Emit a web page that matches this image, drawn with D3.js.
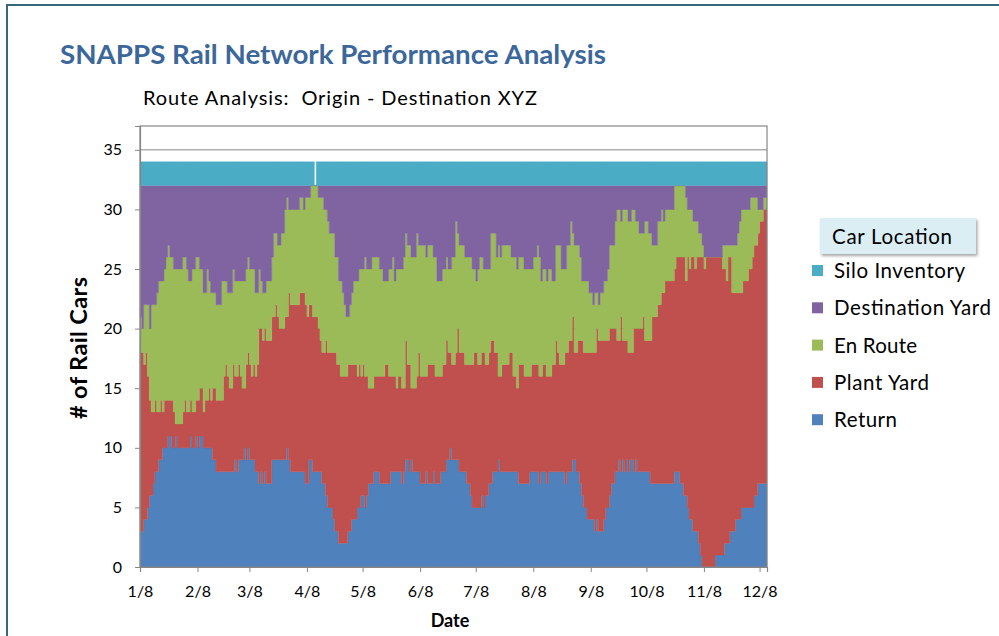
<!DOCTYPE html>
<html><head><meta charset="utf-8">
<script src="https://cdn.jsdelivr.net/npm/d3@7"></script>
<style>
html,body{margin:0;padding:0;background:#fff;}
svg{display:block;}
text{font-family:Lato,"Open Sans",sans-serif;}
</style></head><body>
<svg id="chart" width="999" height="636"></svg>
<script>
// ---------- DATA ----------
const startDate = "2010-01-08";   // first day (1/8)
const seriesNames = ["Return","Plant Yard","En Route","Destination Yard","Silo Inventory"];
const legendOrder = ["Silo Inventory","Destination Yard","En Route","Plant Yard","Return"];
const seriesColors = ["#4F81BD","#C0504D","#9BBB59","#8064A2","#4BACC6"];
const yTicks = [0,5,10,15,20,25,30,35];
const xTickDates = ["2010-01-08","2010-02-08","2010-03-08","2010-04-08","2010-05-08","2010-06-08",
                    "2010-07-08","2010-08-08","2010-09-08","2010-10-08","2010-11-08","2010-12-08"];

const returnCars = [3,3,4,4,5,6,6,7,8,8,
9,9,10,10,10,11,11,10,10,11,
10,10,10,10,10,10,10,11,10,10,
11,10,11,11,10,10,10,10,10,9,
9,8,8,8,8,8,8,8,8,8,
8,9,8,9,9,9,10,9,10,9,
9,9,8,8,7,8,7,8,7,7,
7,9,9,9,9,9,9,9,9,10,
9,8,8,8,8,8,8,8,8,7,
7,9,9,8,8,8,8,8,7,7,
6,5,5,5,4,3,3,2,2,2,
2,2,3,3,4,4,4,5,5,6,
6,5,6,7,7,7,8,8,8,7,
7,7,7,7,7,8,8,8,8,8,
8,7,8,9,9,8,9,8,8,8,
8,7,7,7,8,7,7,7,8,7,
7,7,8,8,8,9,9,10,9,9,
9,9,8,8,8,8,7,7,6,5,
5,5,5,5,6,5,6,6,7,7,
8,8,8,9,8,8,8,8,8,8,
8,8,8,8,7,7,7,7,7,7,
8,8,8,8,8,7,8,8,8,7,
8,8,8,8,8,8,8,8,8,7,
8,8,8,9,9,8,8,7,6,5,
5,4,4,4,4,3,4,3,3,3,
4,5,5,6,7,7,8,8,9,8,
9,8,9,8,9,9,8,9,8,8,
8,8,8,8,8,7,7,7,7,7,
7,7,7,7,7,7,7,7,8,8,
8,7,7,6,6,5,4,4,3,3,
3,2,1,0,0,0,0,0,0,0,
1,1,1,1,1,2,2,2,3,3,
3,4,4,4,5,5,5,5,5,5,
5,6,6,7,7,7,7,7];

const plantYard = [15,15,13,14,11,8,7,6,6,5,
4,5,3,4,4,3,3,4,3,1,
2,2,2,3,4,3,3,3,3,3,
3,4,4,4,3,4,4,5,4,6,
6,6,6,6,6,8,9,8,7,7,
9,7,8,8,7,6,5,8,8,8,
7,8,8,9,13,12,12,12,12,12,
12,12,12,13,12,11,11,11,12,11,
14,14,14,14,14,14,15,15,15,15,
14,13,13,13,13,13,12,11,11,11,
13,13,13,13,14,15,14,15,14,14,
14,14,14,14,13,13,13,11,12,10,
11,11,10,8,8,8,8,8,8,9,
9,9,10,10,9,8,8,8,7,8,
8,8,7,10,8,9,6,7,7,8,
10,9,9,9,8,10,10,10,9,9,
9,9,8,9,9,10,9,8,8,8,
9,11,10,10,10,9,10,10,11,12,
13,13,12,12,12,13,11,11,11,12,
11,10,10,7,8,9,9,9,9,10,
10,8,8,7,10,10,10,9,9,9,
8,9,9,9,9,9,8,9,9,9,
8,8,9,9,11,10,9,9,9,11,
10,11,11,12,9,10,11,12,13,13,
13,14,14,14,14,15,16,16,16,16,
15,14,14,14,13,13,12,11,10,13,
10,11,10,10,9,9,12,11,12,12,
12,13,11,11,11,12,14,14,14,15,
15,16,16,17,17,17,17,17,17,18,
18,19,19,20,18,21,21,22,23,22,
23,24,25,26,25,26,26,26,26,26,
25,25,25,25,24,23,22,24,23,20,
20,19,19,19,18,19,19,19,20,20,
21,21,21,21,22,22,23,23];

const enRoute = [3,2,5,4,6,6,9,9,8,10,
11,10,11,11,12,13,12,12,12,13,
13,13,13,13,12,12,11,10,12,12,
12,12,10,10,10,9,11,9,9,8,
8,8,8,8,10,8,7,7,8,8,
8,8,8,7,8,9,9,8,8,8,
9,8,7,6,5,4,4,3,5,5,
5,5,7,6,6,7,8,8,9,10,
7,8,8,8,8,8,8,8,7,9,
10,9,10,11,11,11,11,12,13,12,
11,11,10,10,10,8,9,7,8,7,
6,5,4,5,6,7,7,8,8,9,
8,10,9,10,10,11,10,10,10,9,
9,8,7,7,9,9,10,8,10,9,
9,10,11,9,10,10,11,11,11,12,
9,11,11,11,10,10,10,10,9,10,
8,8,8,8,8,7,7,7,9,9,
11,8,9,9,9,9,9,9,9,8,
7,6,8,9,8,7,8,8,7,9,
9,10,8,11,10,10,10,10,10,9,
8,10,10,10,9,9,9,9,9,9,
9,8,9,9,10,10,8,8,8,8,
9,9,7,7,8,9,10,8,8,7,
9,8,10,7,9,9,8,7,5,6,
6,6,5,5,4,5,3,3,4,4,
5,5,6,7,7,7,9,11,11,8,
11,11,11,11,11,12,10,9,9,8,
8,7,10,10,9,9,6,6,6,7,
7,7,6,6,6,6,6,6,7,6,
6,6,6,6,7,4,5,4,3,4,
3,2,2,1,1,0,0,0,0,0,
0,0,0,0,2,2,3,1,1,4,
4,4,5,6,7,6,6,6,5,6,
5,4,4,2,1,1,1,1];

const destYard = [11,12,10,10,10,12,10,10,10,9,
8,8,8,7,6,5,6,6,7,7,
7,7,7,6,6,7,8,8,7,7,
6,6,7,7,9,9,7,8,9,9,
9,10,10,10,8,8,8,9,9,9,
7,8,8,8,8,8,8,7,6,7,
7,7,9,9,7,8,9,9,8,8,
8,6,4,4,5,5,4,4,2,1,
2,2,2,2,2,2,1,1,2,1,
1,1,0,0,0,0,1,1,1,2,
2,3,4,4,4,6,6,8,8,9,
10,11,11,10,9,8,8,8,7,7,
7,6,7,7,7,6,6,6,6,7,
7,8,8,8,7,7,6,8,7,7,
7,7,6,4,5,5,6,6,6,4,
5,5,5,5,6,5,5,5,6,6,
8,8,8,7,7,6,7,7,6,6,
3,4,5,5,5,6,6,6,6,7,
7,8,7,6,6,7,7,7,7,4,
4,4,6,5,6,5,5,5,5,5,
6,6,6,7,6,6,6,7,7,7,
7,7,6,6,5,6,8,7,7,8,
7,7,8,8,5,5,5,7,7,7,
5,5,3,4,5,5,5,6,8,8,
8,8,9,9,10,9,9,10,9,9,
8,8,7,5,5,5,3,2,2,3,
2,2,2,3,3,2,2,3,3,4,
4,4,3,3,4,4,5,5,5,3,
3,2,3,2,2,2,2,2,0,0,
0,0,0,0,1,2,2,2,3,3,
3,4,4,5,6,6,6,6,6,6,
6,6,6,6,5,5,5,5,5,5,
5,5,4,3,2,2,2,2,2,1,
1,1,1,2,2,2,1,1];

const siloInventory = [2,2,2,2,2,2,2,2,2,2,
2,2,2,2,2,2,2,2,2,2,
2,2,2,2,2,2,2,2,2,2,
2,2,2,2,2,2,2,2,2,2,
2,2,2,2,2,2,2,2,2,2,
2,2,2,2,2,2,2,2,2,2,
2,2,2,2,2,2,2,2,2,2,
2,2,2,2,2,2,2,2,2,2,
2,2,2,2,2,2,2,2,2,2,
2,2,2,2,0,2,2,2,2,2,
2,2,2,2,2,2,2,2,2,2,
2,2,2,2,2,2,2,2,2,2,
2,2,2,2,2,2,2,2,2,2,
2,2,2,2,2,2,2,2,2,2,
2,2,2,2,2,2,2,2,2,2,
2,2,2,2,2,2,2,2,2,2,
2,2,2,2,2,2,2,2,2,2,
2,2,2,2,2,2,2,2,2,2,
2,2,2,2,2,2,2,2,2,2,
2,2,2,2,2,2,2,2,2,2,
2,2,2,2,2,2,2,2,2,2,
2,2,2,2,2,2,2,2,2,2,
2,2,2,2,2,2,2,2,2,2,
2,2,2,2,2,2,2,2,2,2,
2,2,2,2,2,2,2,2,2,2,
2,2,2,2,2,2,2,2,2,2,
2,2,2,2,2,2,2,2,2,2,
2,2,2,2,2,2,2,2,2,2,
2,2,2,2,2,2,2,2,2,2,
2,2,2,2,2,2,2,2,2,2,
2,2,2,2,2,2,2,2,2,2,
2,2,2,2,2,2,2,2,2,2,
2,2,2,2,2,2,2,2,2,2,
2,2,2,2,2,2,2,2];

// ---------- CHART ----------
const seriesData = [returnCars, plantYard, enRoute, destYard, siloInventory];
const svg = d3.select("#chart");
const plot = {left:140, right:767, top:126, bottom:567};
const parse = d3.utcParse("%Y-%m-%d");
const t0 = parse(startDate);
const n = returnCars.length;

// rows (an extra closing row so the last day's step is drawn to its end)
const rows = d3.range(n + 1).map(i => {
  const j = Math.min(i, n - 1);
  const r = {date: d3.utcDay.offset(t0, i)};
  seriesNames.forEach((k, s) => r[k] = seriesData[s][j]);
  return r;
});

const x = d3.scaleUtc().domain([t0, d3.utcDay.offset(t0, n)]).range([plot.left, plot.right]);
const y = d3.scaleLinear().domain([0, 37]).range([plot.bottom, plot.top]);
const color = d3.scaleOrdinal().domain(seriesNames).range(seriesColors);

// outer frame
svg.append("rect").attr("x", 7).attr("y", 5).attr("width", 1100).attr("height", 800)
  .attr("fill", "none").attr("stroke", "#37687A").attr("stroke-width", 2);

// titles
svg.append("text").attr("x", 60).attr("y", 64)
  .attr("textLength", 546).attr("lengthAdjust", "spacingAndGlyphs")
  .style("font-size", "26px").style("font-weight", "bold").attr("fill", "#3B679A")
  .text("SNAPPS Rail Network Performance Analysis");
svg.append("text").attr("x", 143).attr("y", 105)
  .attr("textLength", 394)
  .style("font-size", "20px").style("white-space", "pre").attr("fill", "#000")
  .text("Route Analysis:  Origin - Destination XYZ");

// gridlines
svg.append("g").selectAll("line").data(yTicks.filter(v => v > 0)).join("line")
  .attr("x1", plot.left).attr("x2", plot.right)
  .attr("y1", d => y(d)).attr("y2", d => y(d))
  .attr("stroke", "#868686").attr("stroke-width", 1);

// stacked areas
const stacked = d3.stack().keys(seriesNames)(rows);
const area = d3.area().curve(d3.curveStepAfter)
  .x(d => x(d.data.date)).y0(d => y(d[0])).y1(d => y(d[1]));
svg.append("g").selectAll("path").data(stacked).join("path")
  .attr("d", area).attr("fill", d => color(d.key))
  .attr("stroke", d => color(d.key)).attr("stroke-width", 0.4);

// plot frame
svg.append("rect").attr("x", plot.left).attr("y", plot.top)
  .attr("width", plot.right - plot.left).attr("height", plot.bottom - plot.top)
  .attr("fill", "none").attr("stroke", "#868686").attr("stroke-width", 1.2);

// axes
const yAxis = d3.axisLeft(y).tickValues(yTicks).tickSize(5).tickPadding(13);
const gy = svg.append("g").attr("transform", `translate(${plot.left},0)`).call(yAxis);
const xAxis = d3.axisBottom(x).tickValues(xTickDates.map(parse))
  .tickFormat(d3.utcFormat("%-m/%-d")).tickSize(5).tickPadding(14);
const gx = svg.append("g").attr("transform", `translate(0,${plot.bottom})`).call(xAxis);
[gx, gy].forEach(g => {
  g.select(".domain").attr("stroke", "#868686").attr("stroke-width", 1.2);
  g.selectAll(".tick line").attr("stroke", "#868686");
  g.selectAll(".tick text").style("font-size", "16px").style("font-family", "Lato, sans-serif").attr("fill", "#000");
});

// axis titles
svg.append("text").attr("transform", "translate(87,348) rotate(-90)")
  .attr("text-anchor", "middle").attr("textLength", 142)
  .style("font-size", "23.5px").style("font-weight", "bold").text("# of Rail Cars");
svg.append("text").attr("x", 450).attr("y", 627).attr("text-anchor", "middle")
  .style("font-size", "18px").style("font-weight", "bold").text("Date");

// legend
const legendTextWidths = {"Silo Inventory":131, "Destination Yard":157, "En Route":83, "Plant Yard":95, "Return":63};
const defs = svg.append("defs");
const f = defs.append("filter").attr("id", "sh").attr("x", "-10%").attr("y", "-20%").attr("width", "130%").attr("height", "160%");
f.append("feDropShadow").attr("dx", 1.5).attr("dy", 2).attr("stdDeviation", 1.5)
  .attr("flood-color", "#000").attr("flood-opacity", 0.35);
svg.append("rect").attr("x", 820).attr("y", 218).attr("width", 156).attr("height", 36)
  .attr("fill", "#DBEEF4").attr("filter", "url(#sh)");
svg.append("text").attr("x", 832).attr("y", 244).attr("textLength", 120)
  .style("font-size", "20.5px").text("Car Location");
const lg = svg.append("g").selectAll("g").data(legendOrder).join("g")
  .attr("transform", (d, i) => `translate(812,${271 + i * 37.3})`);
lg.append("rect").attr("x", 0).attr("y", -6).attr("width", 11).attr("height", 11).attr("fill", d => color(d));
lg.append("text").attr("x", 22).attr("y", 7).attr("textLength", d => legendTextWidths[d])
  .style("font-size", "20.5px").text(d => d);
</script>
</body></html>
